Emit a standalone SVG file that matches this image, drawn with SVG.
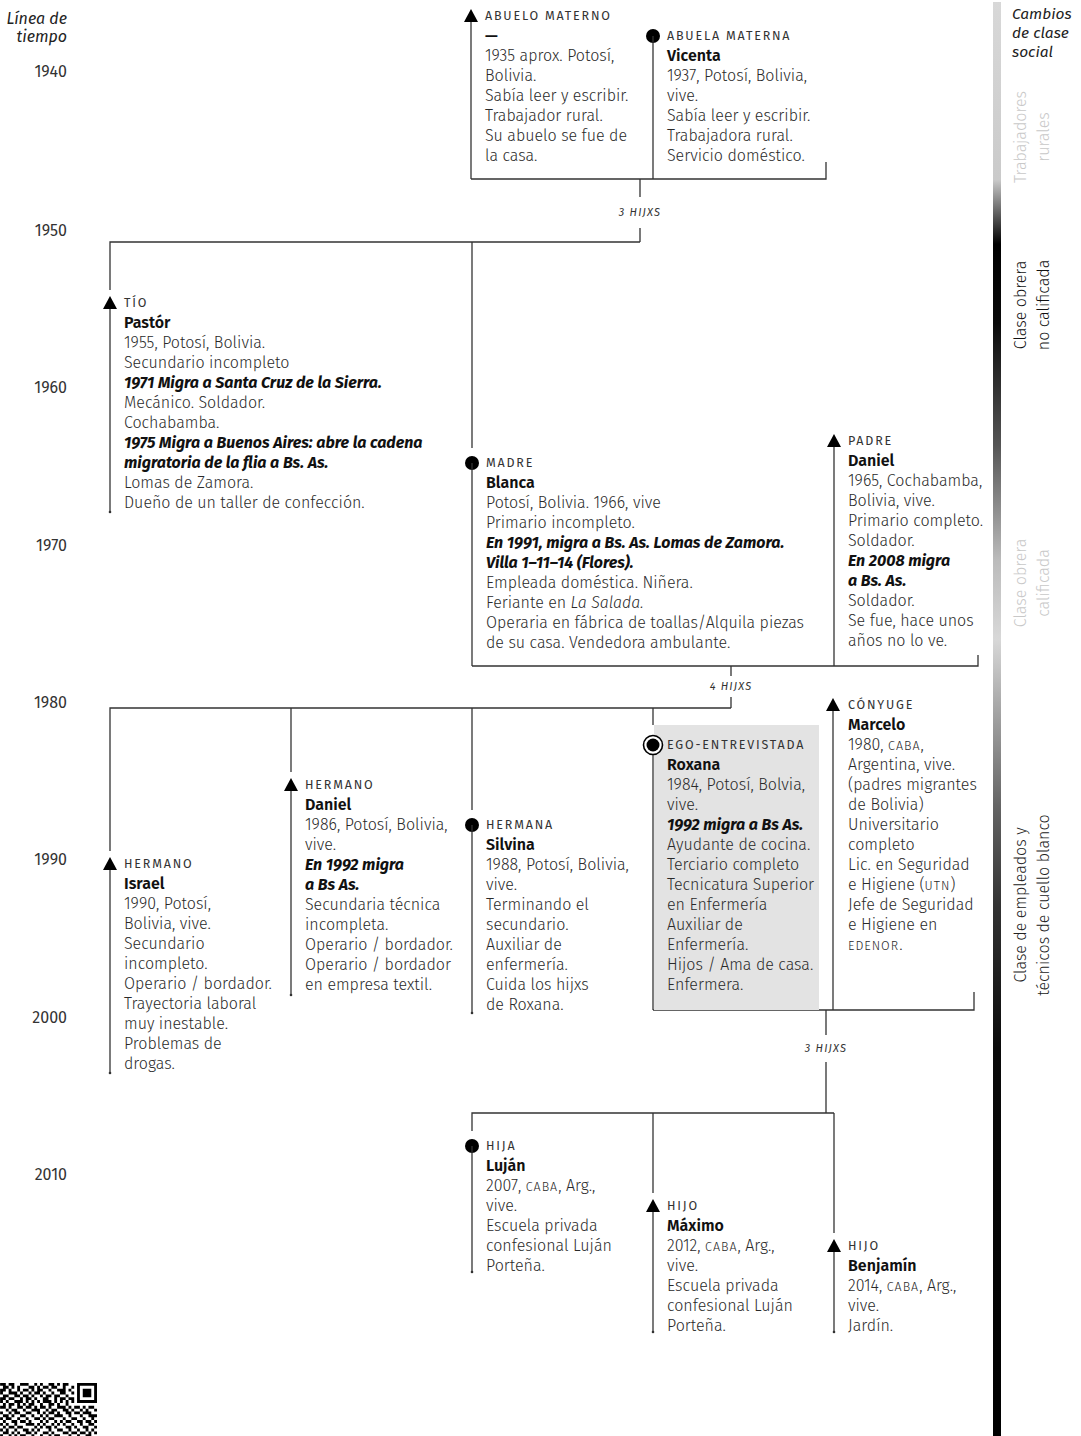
<svg xmlns="http://www.w3.org/2000/svg" width="1081" height="1436" viewBox="0 0 1081 1436">
<defs>
<style>
text{font-family:"Fira Sans",Lato,"Open Sans",sans-serif;}
.lbl{font-size:12.5px;letter-spacing:1.8px;fill:#333;}
.nm{font-size:16px;font-weight:600;fill:#111;}
.bd{font-size:16px;font-weight:300;fill:#2a2a2a;}
.bi{font-style:italic;font-weight:bold;fill:#111;}
.it{font-style:italic;}
.sc{font-size:12.5px;letter-spacing:1px;}
.yr{font-size:16px;fill:#333;text-anchor:end;}
.hd{font-size:16px;font-style:italic;fill:#222;}
.hr{font-size:15.5px;font-style:italic;fill:#222;}
.hx{font-size:11px;font-style:italic;letter-spacing:1.2px;fill:#333;text-anchor:middle;}
.rot{font-size:16px;font-weight:300;text-anchor:middle;}
.ln{stroke:#333;stroke-width:1.3;fill:none;}
.sym{fill:#000;}
.dot{fill:#333;}
</style>
<linearGradient id="classbar" gradientUnits="userSpaceOnUse" x1="0" y1="0" x2="0" y2="1436">
<stop offset="0" stop-color="#d8d8d8"/>
<stop offset="0.125" stop-color="#cacaca"/>
<stop offset="0.17" stop-color="#000"/>
<stop offset="0.225" stop-color="#0a0a0a"/>
<stop offset="0.31" stop-color="#555"/>
<stop offset="0.39" stop-color="#bbb"/>
<stop offset="0.445" stop-color="#d8d8d8"/>
<stop offset="0.49" stop-color="#aaa"/>
<stop offset="0.56" stop-color="#666"/>
<stop offset="0.63" stop-color="#333"/>
<stop offset="0.73" stop-color="#0a0a0a"/>
<stop offset="1" stop-color="#000"/>
</linearGradient>
</defs>
<rect width="1081" height="1436" fill="#fff"/>

<!-- time axis -->
<g id="timeline">
<text class="hd" x="67" y="24" text-anchor="end">Línea de</text>
<text class="hd" x="67" y="42" text-anchor="end">tiempo</text>
<text class="yr" x="67" y="77">1940</text>
<text class="yr" x="67" y="236">1950</text>
<text class="yr" x="67" y="393">1960</text>
<text class="yr" x="67" y="551">1970</text>
<text class="yr" x="67" y="708">1980</text>
<text class="yr" x="67" y="865">1990</text>
<text class="yr" x="67" y="1023">2000</text>
<text class="yr" x="67" y="1180">2010</text>
</g>

<!-- social class bar -->
<g id="class-bar">
<rect x="993" y="2" width="8" height="1434" fill="url(#classbar)"/>
<text class="hr" x="1012" y="19">Cambios</text>
<text class="hr" x="1012" y="38">de clase</text>
<text class="hr" x="1012" y="57">social</text>
<text class="rot" fill="#c8c8c8" transform="translate(1026,137) rotate(-90)">Trabajadores</text>
<text class="rot" fill="#c8c8c8" transform="translate(1049,137) rotate(-90)">rurales</text>
<text class="rot" fill="#111" transform="translate(1026,305) rotate(-90)">Clase obrera</text>
<text class="rot" fill="#111" transform="translate(1049,305) rotate(-90)">no calificada</text>
<text class="rot" fill="#c8c8c8" transform="translate(1026,583) rotate(-90)">Clase obrera</text>
<text class="rot" fill="#c8c8c8" transform="translate(1049,583) rotate(-90)">calificada</text>
<text class="rot" fill="#222" transform="translate(1026,905) rotate(-90)">Clase de empleados y</text>
<text class="rot" fill="#222" transform="translate(1049,905) rotate(-90)">técnicos de cuello blanco</text>
</g>

<!-- connectors -->
<g id="connectors" class="ln">
<path d="M471 179H826V162"/>
<path d="M640 179V197M640 228V242"/>
<path d="M110 290V242H640"/>
<path d="M472 242V448"/>
<path d="M472 666H978V655"/>
<path d="M731 666V676M731 697V708"/>
<path d="M110 851V708H731"/>
<path d="M291 708V772"/>
<path d="M472 708V810"/>
<path d="M653 708V725"/>
<path d="M653 1010H974V992"/>
<path d="M826 1010V1035M826 1062V1113"/>
<path d="M472 1131V1113H834"/>
<path d="M653 1113V1193"/>
<path d="M834 1113V1233"/>
</g>
<text class="hx" x="640" y="216">3 HIJXS</text>
<text class="hx" x="731" y="690">4 HIJXS</text>
<text class="hx" x="826" y="1052">3 HIJXS</text>

<!-- abuelo materno -->
<g id="abuelo-materno">
<path class="sym" d="M471 9L478 22H464Z"/>
<line class="ln" x1="471" y1="22" x2="471" y2="179"/>
<text class="lbl" x="485" y="20">ABUELO MATERNO</text>
<text class="nm" x="485" y="41">—</text>
<text class="bd" x="485" y="61"><tspan x="485">1935 aprox. Potosí,</tspan><tspan x="485" dy="20">Bolivia.</tspan><tspan x="485" dy="20">Sabía leer y escribir.</tspan><tspan x="485" dy="20">Trabajador rural.</tspan><tspan x="485" dy="20">Su abuelo se fue de</tspan><tspan x="485" dy="20">la casa.</tspan></text>
</g>

<!-- abuela materna -->
<g id="abuela-materna">
<circle class="sym" cx="653" cy="36" r="7"/>
<line class="ln" x1="653" y1="36" x2="653" y2="179"/>
<text class="lbl" x="667" y="40">ABUELA MATERNA</text>
<text class="nm" x="667" y="61">Vicenta</text>
<text class="bd" x="667" y="81"><tspan x="667">1937, Potosí, Bolivia,</tspan><tspan x="667" dy="20">vive.</tspan><tspan x="667" dy="20">Sabía leer y escribir.</tspan><tspan x="667" dy="20">Trabajadora rural.</tspan><tspan x="667" dy="20">Servicio doméstico.</tspan></text>
</g>

<!-- tio -->
<g id="tio">
<path class="sym" d="M110 296L117 309H103Z"/>
<line class="ln" x1="110" y1="309" x2="110" y2="512"/>
<circle class="dot" cx="110" cy="512" r="1.3"/>
<text class="lbl" x="124" y="307">TÍO</text>
<text class="nm" x="124" y="328">Pastór</text>
<text class="bd" x="124" y="348"><tspan x="124">1955, Potosí, Bolivia.</tspan><tspan x="124" dy="20">Secundario incompleto</tspan><tspan x="124" dy="20" class="bi">1971 Migra a Santa Cruz de la Sierra.</tspan><tspan x="124" dy="20">Mecánico. Soldador.</tspan><tspan x="124" dy="20">Cochabamba.</tspan><tspan x="124" dy="20" class="bi">1975 Migra a Buenos Aires: abre la cadena</tspan><tspan x="124" dy="20" class="bi">migratoria de la flia a Bs. As.</tspan><tspan x="124" dy="20">Lomas de Zamora.</tspan><tspan x="124" dy="20">Dueño de un taller de confección.</tspan></text>
</g>

<!-- madre -->
<g id="madre">
<circle class="sym" cx="472" cy="463" r="7"/>
<line class="ln" x1="472" y1="463" x2="472" y2="666"/>
<text class="lbl" x="486" y="467">MADRE</text>
<text class="nm" x="486" y="488">Blanca</text>
<text class="bd" x="486" y="508"><tspan x="486">Potosí, Bolivia. 1966, vive</tspan><tspan x="486" dy="20">Primario incompleto.</tspan><tspan x="486" dy="20" class="bi">En 1991, migra a Bs. As. Lomas de Zamora.</tspan><tspan x="486" dy="20" class="bi">Villa 1–11–14 (Flores).</tspan><tspan x="486" dy="20">Empleada doméstica. Niñera.</tspan><tspan x="486" dy="20">Feriante en <tspan class="it">La Salada.</tspan></tspan><tspan x="486" dy="20">Operaria en fábrica de toallas/Alquila piezas</tspan><tspan x="486" dy="20">de su casa. Vendedora ambulante.</tspan></text>
</g>

<!-- padre -->
<g id="padre">
<path class="sym" d="M834 434L841 447H827Z"/>
<line class="ln" x1="834" y1="447" x2="834" y2="666"/>
<text class="lbl" x="848" y="445">PADRE</text>
<text class="nm" x="848" y="466">Daniel</text>
<text class="bd" x="848" y="486"><tspan x="848">1965, Cochabamba,</tspan><tspan x="848" dy="20">Bolivia, vive.</tspan><tspan x="848" dy="20">Primario completo.</tspan><tspan x="848" dy="20">Soldador.</tspan><tspan x="848" dy="20" class="bi">En 2008 migra</tspan><tspan x="848" dy="20" class="bi">a Bs. As.</tspan><tspan x="848" dy="20">Soldador.</tspan><tspan x="848" dy="20">Se fue, hace unos</tspan><tspan x="848" dy="20">años no lo ve.</tspan></text>
</g>

<!-- hermano Israel -->
<g id="hermano-israel">
<path class="sym" d="M110 857L117 870H103Z"/>
<line class="ln" x1="110" y1="870" x2="110" y2="1073"/>
<circle class="dot" cx="110" cy="1073" r="1.3"/>
<text class="lbl" x="124" y="868">HERMANO</text>
<text class="nm" x="124" y="889">Israel</text>
<text class="bd" x="124" y="909"><tspan x="124">1990, Potosí,</tspan><tspan x="124" dy="20">Bolivia, vive.</tspan><tspan x="124" dy="20">Secundario</tspan><tspan x="124" dy="20">incompleto.</tspan><tspan x="124" dy="20">Operario / bordador.</tspan><tspan x="124" dy="20">Trayectoria laboral</tspan><tspan x="124" dy="20">muy inestable.</tspan><tspan x="124" dy="20">Problemas de</tspan><tspan x="124" dy="20">drogas.</tspan></text>
</g>

<!-- hermano Daniel -->
<g id="hermano-daniel">
<path class="sym" d="M291 778L298 791H284Z"/>
<line class="ln" x1="291" y1="791" x2="291" y2="995"/>
<circle class="dot" cx="291" cy="995" r="1.3"/>
<text class="lbl" x="305" y="789">HERMANO</text>
<text class="nm" x="305" y="810">Daniel</text>
<text class="bd" x="305" y="830"><tspan x="305">1986, Potosí, Bolivia,</tspan><tspan x="305" dy="20">vive.</tspan><tspan x="305" dy="20" class="bi">En 1992 migra</tspan><tspan x="305" dy="20" class="bi">a Bs As.</tspan><tspan x="305" dy="20">Secundaria técnica</tspan><tspan x="305" dy="20">incompleta.</tspan><tspan x="305" dy="20">Operario / bordador.</tspan><tspan x="305" dy="20">Operario / bordador</tspan><tspan x="305" dy="20">en empresa textil.</tspan></text>
</g>

<!-- hermana Silvina -->
<g id="hermana-silvina">
<circle class="sym" cx="472" cy="825" r="7"/>
<line class="ln" x1="472" y1="825" x2="472" y2="1013"/>
<circle class="dot" cx="472" cy="1013" r="1.3"/>
<text class="lbl" x="486" y="829">HERMANA</text>
<text class="nm" x="486" y="850">Silvina</text>
<text class="bd" x="486" y="870"><tspan x="486">1988, Potosí, Bolivia,</tspan><tspan x="486" dy="20">vive.</tspan><tspan x="486" dy="20">Terminando el</tspan><tspan x="486" dy="20">secundario.</tspan><tspan x="486" dy="20">Auxiliar de</tspan><tspan x="486" dy="20">enfermería.</tspan><tspan x="486" dy="20">Cuida los hijxs</tspan><tspan x="486" dy="20">de Roxana.</tspan></text>
</g>

<!-- ego Roxana -->
<g id="ego-roxana">
<rect x="654" y="725" width="165" height="285" fill="#e3e3e3"/>
<line class="ln" x1="653" y1="745" x2="653" y2="1010"/>
<circle cx="653" cy="745" r="9.5" fill="#fff" stroke="#000" stroke-width="1.6"/>
<circle class="sym" cx="653" cy="745" r="6.5"/>
<text class="lbl" x="667" y="749">EGO-ENTREVISTADA</text>
<text class="nm" x="667" y="770">Roxana</text>
<text class="bd" x="667" y="790"><tspan x="667">1984, Potosí, Bolvia,</tspan><tspan x="667" dy="20">vive.</tspan><tspan x="667" dy="20" class="bi">1992 migra a Bs As.</tspan><tspan x="667" dy="20">Ayudante de cocina.</tspan><tspan x="667" dy="20">Terciario completo</tspan><tspan x="667" dy="20">Tecnicatura Superior</tspan><tspan x="667" dy="20">en Enfermería</tspan><tspan x="667" dy="20">Auxiliar de</tspan><tspan x="667" dy="20">Enfermería.</tspan><tspan x="667" dy="20">Hijos / Ama de casa.</tspan><tspan x="667" dy="20">Enfermera.</tspan></text>
</g>

<!-- conyuge Marcelo -->
<g id="conyuge-marcelo">
<path class="sym" d="M833 698L840 711H826Z"/>
<line class="ln" x1="833" y1="711" x2="833" y2="1010"/>
<text class="lbl" x="848" y="709">CÓNYUGE</text>
<text class="nm" x="848" y="730">Marcelo</text>
<text class="bd" x="848" y="750"><tspan x="848">1980, <tspan class="sc">CABA</tspan>,</tspan><tspan x="848" dy="20">Argentina, vive.</tspan><tspan x="848" dy="20">(padres migrantes</tspan><tspan x="848" dy="20">de Bolivia)</tspan><tspan x="848" dy="20">Universitario</tspan><tspan x="848" dy="20">completo</tspan><tspan x="848" dy="20">Lic. en Seguridad</tspan><tspan x="848" dy="20">e Higiene (<tspan class="sc">UTN</tspan>)</tspan><tspan x="848" dy="20">Jefe de Seguridad</tspan><tspan x="848" dy="20">e Higiene en</tspan><tspan x="848" dy="20"><tspan class="sc">EDENOR</tspan>.</tspan></text>
</g>

<!-- hija Lujan -->
<g id="hija-lujan">
<circle class="sym" cx="472" cy="1146" r="7"/>
<line class="ln" x1="472" y1="1146" x2="472" y2="1272"/>
<circle class="dot" cx="472" cy="1272" r="1.3"/>
<text class="lbl" x="486" y="1150">HIJA</text>
<text class="nm" x="486" y="1171">Luján</text>
<text class="bd" x="486" y="1191"><tspan x="486">2007, <tspan class="sc">CABA</tspan>, Arg.,</tspan><tspan x="486" dy="20">vive.</tspan><tspan x="486" dy="20">Escuela privada</tspan><tspan x="486" dy="20">confesional Luján</tspan><tspan x="486" dy="20">Porteña.</tspan></text>
</g>

<!-- hijo Maximo -->
<g id="hijo-maximo">
<path class="sym" d="M653 1199L660 1212H646Z"/>
<line class="ln" x1="653" y1="1212" x2="653" y2="1332"/>
<circle class="dot" cx="653" cy="1332" r="1.3"/>
<text class="lbl" x="667" y="1210">HIJO</text>
<text class="nm" x="667" y="1231">Máximo</text>
<text class="bd" x="667" y="1251"><tspan x="667">2012, <tspan class="sc">CABA</tspan>, Arg.,</tspan><tspan x="667" dy="20">vive.</tspan><tspan x="667" dy="20">Escuela privada</tspan><tspan x="667" dy="20">confesional Luján</tspan><tspan x="667" dy="20">Porteña.</tspan></text>
</g>

<!-- hijo Benjamin -->
<g id="hijo-benjamin">
<path class="sym" d="M834 1239L841 1252H827Z"/>
<line class="ln" x1="834" y1="1252" x2="834" y2="1332"/>
<circle class="dot" cx="834" cy="1332" r="1.3"/>
<text class="lbl" x="848" y="1250">HIJO</text>
<text class="nm" x="848" y="1271">Benjamín</text>
<text class="bd" x="848" y="1291"><tspan x="848">2014, <tspan class="sc">CABA</tspan>, Arg.,</tspan><tspan x="848" dy="20">vive.</tspan><tspan x="848" dy="20">Jardín.</tspan></text>
</g>

<!-- QR code (cropped) -->
<g id="qr">
<path fill="#000" transform="translate(0.1,1383) scale(2.85)" d="M0 0h2v1h-2zM3 0h2v1h-2zM7 0h3v1h-3zM12 0h1v1h-1zM14 0h1v1h-1zM17 0h2v1h-2zM20 0h1v1h-1zM22 0h2v1h-2zM27 0h7v1h-7zM1 1h2v1h-2zM4 1h1v1h-1zM6 1h1v1h-1zM10 1h2v1h-2zM13 1h1v1h-1zM15 1h2v1h-2zM18 1h2v1h-2zM22 1h1v1h-1zM25 1h1v1h-1zM27 1h1v1h-1zM33 1h1v1h-1zM0 2h2v1h-2zM3 2h1v1h-1zM6 2h1v1h-1zM8 2h2v1h-2zM11 2h1v1h-1zM13 2h2v1h-2zM17 2h1v1h-1zM20 2h3v1h-3zM24 2h1v1h-1zM27 2h1v1h-1zM29 2h3v1h-3zM33 2h1v1h-1zM0 3h1v1h-1zM3 3h3v1h-3zM7 3h1v1h-1zM10 3h1v1h-1zM12 3h2v1h-2zM15 3h1v1h-1zM18 3h1v1h-1zM21 3h2v1h-2zM25 3h1v1h-1zM27 3h1v1h-1zM29 3h3v1h-3zM33 3h1v1h-1zM1 4h2v1h-2zM5 4h2v1h-2zM8 4h2v1h-2zM11 4h1v1h-1zM14 4h1v1h-1zM16 4h2v1h-2zM19 4h2v1h-2zM23 4h1v1h-1zM27 4h1v1h-1zM29 4h3v1h-3zM33 4h1v1h-1zM0 5h2v1h-2zM3 5h2v1h-2zM7 5h1v1h-1zM9 5h2v1h-2zM12 5h1v1h-1zM15 5h2v1h-2zM19 5h1v1h-1zM21 5h2v1h-2zM24 5h2v1h-2zM27 5h1v1h-1zM33 5h1v1h-1zM0 6h1v1h-1zM2 6h1v1h-1zM5 6h3v1h-3zM9 6h1v1h-1zM11 6h1v1h-1zM13 6h1v1h-1zM15 6h3v1h-3zM19 6h1v1h-1zM21 6h1v1h-1zM23 6h1v1h-1zM25 6h1v1h-1zM27 6h7v1h-7zM1 7h1v1h-1zM3 7h2v1h-2zM6 7h1v1h-1zM8 7h1v1h-1zM10 7h2v1h-2zM14 7h1v1h-1zM17 7h2v1h-2zM20 7h1v1h-1zM23 7h1v1h-1zM0 8h2v1h-2zM3 8h1v1h-1zM6 8h2v1h-2zM9 8h2v1h-2zM12 8h1v1h-1zM14 8h2v1h-2zM17 8h1v1h-1zM20 8h3v1h-3zM24 8h1v1h-1zM26 8h2v1h-2zM29 8h1v1h-1zM31 8h2v1h-2zM2 9h1v1h-1zM4 9h2v1h-2zM8 9h1v1h-1zM11 9h3v1h-3zM16 9h1v1h-1zM18 9h2v1h-2zM22 9h2v1h-2zM25 9h1v1h-1zM28 9h1v1h-1zM30 9h1v1h-1zM33 9h1v1h-1zM0 10h1v1h-1zM3 10h1v1h-1zM5 10h2v1h-2zM9 10h2v1h-2zM13 10h1v1h-1zM15 10h1v1h-1zM17 10h2v1h-2zM20 10h1v1h-1zM23 10h2v1h-2zM26 10h2v1h-2zM29 10h3v1h-3zM1 11h2v1h-2zM4 11h1v1h-1zM7 11h2v1h-2zM11 11h1v1h-1zM14 11h1v1h-1zM16 11h1v1h-1zM19 11h3v1h-3zM24 11h1v1h-1zM28 11h1v1h-1zM31 11h3v1h-3zM0 12h1v1h-1zM2 12h2v1h-2zM6 12h1v1h-1zM9 12h1v1h-1zM12 12h2v1h-2zM15 12h1v1h-1zM17 12h2v1h-2zM22 12h1v1h-1zM25 12h2v1h-2zM29 12h1v1h-1zM32 12h1v1h-1zM1 13h1v1h-1zM4 13h2v1h-2zM7 13h2v1h-2zM10 13h1v1h-1zM14 13h1v1h-1zM16 13h1v1h-1zM19 13h1v1h-1zM21 13h1v1h-1zM23 13h2v1h-2zM27 13h2v1h-2zM30 13h2v1h-2zM33 13h1v1h-1zM0 14h1v1h-1zM2 14h1v1h-1zM5 14h1v1h-1zM9 14h3v1h-3zM13 14h1v1h-1zM15 14h1v1h-1zM18 14h1v1h-1zM20 14h1v1h-1zM22 14h1v1h-1zM25 14h1v1h-1zM28 14h1v1h-1zM31 14h2v1h-2zM1 15h1v1h-1zM3 15h2v1h-2zM6 15h2v1h-2zM12 15h1v1h-1zM14 15h1v1h-1zM16 15h2v1h-2zM19 15h1v1h-1zM23 15h2v1h-2zM26 15h1v1h-1zM29 15h2v1h-2zM33 15h1v1h-1zM0 16h1v1h-1zM2 16h1v1h-1zM5 16h1v1h-1zM8 16h2v1h-2zM11 16h1v1h-1zM13 16h1v1h-1zM17 16h1v1h-1zM20 16h2v1h-2zM24 16h1v1h-1zM27 16h1v1h-1zM30 16h1v1h-1zM32 16h1v1h-1zM1 17h2v1h-2zM4 17h1v1h-1zM6 17h1v1h-1zM9 17h2v1h-2zM12 17h1v1h-1zM15 17h2v1h-2zM18 17h1v1h-1zM22 17h2v1h-2zM25 17h2v1h-2zM28 17h2v1h-2zM31 17h1v1h-1zM33 17h1v1h-1zM0 18h1v1h-1zM3 18h1v1h-1zM5 18h1v1h-1zM7 18h2v1h-2zM11 18h1v1h-1zM14 18h1v1h-1zM17 18h1v1h-1zM19 18h2v1h-2zM24 18h1v1h-1zM27 18h1v1h-1zM30 18h2v1h-2z"/>
</g>
</svg>
